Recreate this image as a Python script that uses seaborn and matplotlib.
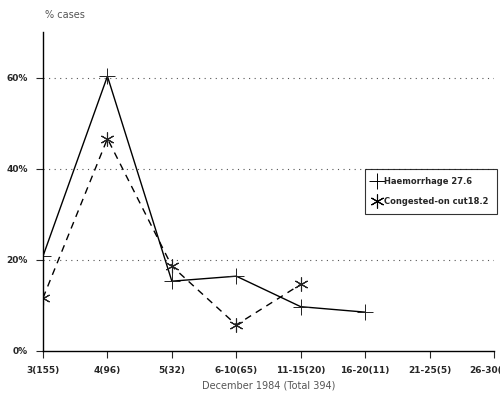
import numpy as np
import pandas as pd
import matplotlib
matplotlib.use('Agg')
import matplotlib.pyplot as plt
import seaborn as sns

# data
categories = ['3(155)', '4(96)', '5(32)', '6-10(65)', '11-15(20)',
              '16-20(11)', '21-25(5)', '26-30(10)']
haemorrhage = [20.8, 60.3, 15.3, 16.4, 9.7, 8.5]
congested = [11.6, 46.6, 18.6, 5.7, 14.6]
yticks = [0, 20, 40, 60]

sns.set_style('white')
plt.rcParams['font.family'] = ['DejaVu Sans']

df_h = pd.DataFrame({'x': np.arange(len(haemorrhage)), 'y': haemorrhage})
df_c = pd.DataFrame({'x': np.arange(len(congested)), 'y': congested})

fig = plt.figure(figsize=(5, 3.96), dpi=100)
ax = fig.add_axes([0.086, 0.114, 0.902, 0.805])

for yv in yticks[1:]:
    ax.axhline(yv, color='#555555', lw=0.8, ls=(0, (1, 4)), zorder=0)

star = (6, 2, 0)
sns.lineplot(data=df_h, x='x', y='y', ax=ax, color='black', lw=1.0,
             marker='+', markersize=12, markeredgewidth=0.7,
             markeredgecolor='#222222')
sns.lineplot(data=df_c, x='x', y='y', ax=ax, color='black', lw=1.0,
             ls=(0, (5, 4)), marker=star, markersize=10,
             markeredgewidth=0.8, markeredgecolor='#222222')

ax.set_xlim(0, 7)
ax.set_ylim(0, 70)
ax.set_xticks(range(len(categories)))
ax.set_xticklabels(categories, fontsize=6.5, fontweight='bold')
ax.set_yticks(yticks)
ax.set_yticklabels([f'{v}%' for v in yticks], fontsize=6.5, fontweight='bold')
ax.tick_params(axis='both', direction='out', length=5, width=0.8,
               bottom=True, left=True, pad=6)
for s in ['top', 'right']:
    ax.spines[s].set_visible(False)
for s in ['left', 'bottom']:
    ax.spines[s].set_linewidth(1.0)
    ax.spines[s].set_color('black')

ax.set_xlabel('December 1984 (Total 394)', fontsize=7, color='#555555',
              labelpad=4)
ax.set_ylabel('')
fig.text(0.09, 0.955, '% cases', fontsize=7, color='#555555')

h1 = plt.Line2D([], [], color='black', lw=0, marker='+', markersize=12,
                markeredgewidth=0.7)
h2 = plt.Line2D([], [], color='black', lw=0, marker=star,
                markersize=10, markeredgewidth=0.8)
leg = ax.legend([h1, h2], ['Haemorrhage 27.6', 'Congested-on cut18.2'],
                loc='upper left', bbox_to_anchor=(0.713, 0.572),
                prop={'weight': 'bold', 'size': 6},
                frameon=True, fancybox=False, edgecolor='black',
                handlelength=1.0, handletextpad=0.3, borderpad=1.0,
                labelspacing=1.3, borderaxespad=0)
leg.get_frame().set_linewidth(0.8)

fig.savefig('out.png', dpi=100)
